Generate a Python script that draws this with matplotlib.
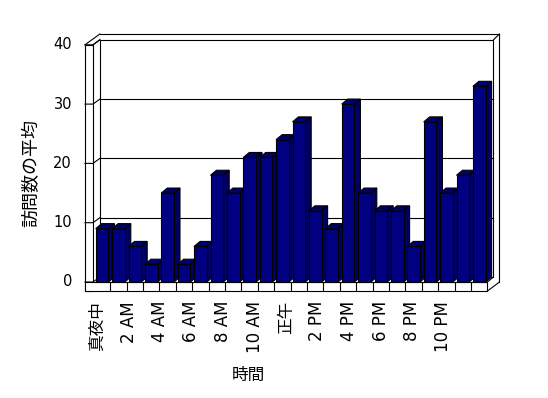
import matplotlib
matplotlib.use("Agg")
import matplotlib.pyplot as plt
from matplotlib.patches import Polygon, Rectangle
import numpy as np

plt.rcParams['font.family'] = ['DejaVu Sans', 'Noto Sans CJK JP']

# ---- data ----
hours = list(range(24))
visits = [9, 9, 6, 3, 15, 3, 6, 18, 15, 21, 21, 24,
          27, 12, 9, 30, 15, 12, 12, 6, 27, 15, 18, 33]
tick_labels = ["真夜中", "2 AM", "4 AM", "6 AM", "8 AM", "10 AM",
               "正午", "2 PM", "4 PM", "6 PM", "8 PM", "10 PM"]
y_ticks = [0, 10, 20, 30, 40]
x_title = "時間"
y_title = "訪問数の平均"

# ---- layout (pixel mapping) ----
W, H = 548, 398
X0, SX = 93.85, 16.4      # pixel x of slot 0, pixels per slot
Y0, SY = 282.0, 5.93      # pixel y of value 0, pixels per unit
DX, DY = 6 / SX, 5 / SY   # depth offset of bars / back wall
OX, OY = 12 / SX, 9 / SY  # outer wall thickness offset
BW = 0.774
n = len(visits)
ymax = y_ticks[-1]
navy, top_c, side_c = "#000080", "#00006c", "#000064"
lw = 0.8

fig = plt.figure(figsize=(W / 100, H / 100), dpi=100)
ax = fig.add_axes([0, 0, 1, 1])
ax.set_xlim(-X0 / SX, (W - X0) / SX)
ax.set_ylim((Y0 - H) / SY, Y0 / SY)
ax.axis("off")

def px_x(p):
    return (p - X0) / SX

def px_y(p):
    return (Y0 - p) / SY

wall_l = px_x(85)
wall_r = px_x(93)
floor_b = px_y(291)
top_outer = px_y(34)

# back wall
ax.add_patch(Rectangle((DX, DY), n, ymax, facecolor="white", edgecolor="black", lw=lw, zorder=1))
ax.plot([DX, n + OX], [top_outer, top_outer], color="black", lw=lw, zorder=1)
ax.plot([n + OX, n + OX], [top_outer, 0], color="black", lw=lw, zorder=1)
ax.plot([n + DX, n + OX], [ymax + DY, top_outer], color="black", lw=lw, zorder=1)

# left wall
ax.add_patch(Rectangle((wall_l, floor_b), wall_r - wall_l, ymax - floor_b,
                       facecolor="white", edgecolor="black", lw=lw, zorder=1))
ax.plot([wall_l, DX], [ymax, top_outer], color="black", lw=lw, zorder=1)
ax.plot([wall_r, DX], [ymax, ymax + DY], color="black", lw=lw, zorder=1)
for t in y_ticks:
    ax.plot([wall_l, wall_r, DX], [t, t, t + DY], color="black", lw=lw, zorder=1)
    if 0 < t < ymax:
        ax.plot([DX, n + DX], [t + DY, t + DY], color="black", lw=lw, zorder=1)
    ax.text(px_x(72), t, str(t), ha="right", va="center", fontsize=10.5)

# floor
ax.add_patch(Rectangle((wall_l, floor_b), n - wall_l, -floor_b,
                       facecolor="white", edgecolor="black", lw=lw, zorder=2))
for k in range(1, n):
    ax.plot([k, k], [floor_b, 0], color="black", lw=lw, zorder=2)
ax.plot([n, n + OX], [floor_b, 0], color="black", lw=lw, zorder=2)
ax.plot([n, n + DX], [0, DY], color="black", lw=lw, zorder=2)

# bars
xs = np.array(hours) + 0.5
bars = ax.bar(xs, visits, width=BW, color=navy, edgecolor="black", lw=lw, zorder=3)
for i, (b, v) in enumerate(zip(bars, visits)):
    l = b.get_x()
    r = l + b.get_width()
    b.set_zorder(3 + i * 0.01 + 0.005)
    ax.add_patch(Polygon([(l, v), (r, v), (r + DX, v + DY), (l + DX, v + DY)],
                         closed=True, facecolor=top_c, edgecolor="black", lw=lw,
                         zorder=3 + i * 0.01))
    ax.add_patch(Polygon([(r, 0), (r, v), (r + DX, v + DY), (r + DX, DY)],
                         closed=True, facecolor=side_c, edgecolor="black", lw=lw,
                         zorder=3 + i * 0.01))

# category labels
lab_y = px_y(301)
for k, lab in enumerate(tick_labels):
    ax.text(px_x(97 + 31.5 * k), lab_y, lab, rotation=90, ha="center", va="top",
            fontsize=12)

ax.text(px_x(248.5), px_y(375), x_title, ha="center", va="center", fontsize=12)
ax.text(px_x(31), px_y(173), y_title, ha="center", va="center", rotation=90, fontsize=13)

fig.savefig("out.png", dpi=100)
